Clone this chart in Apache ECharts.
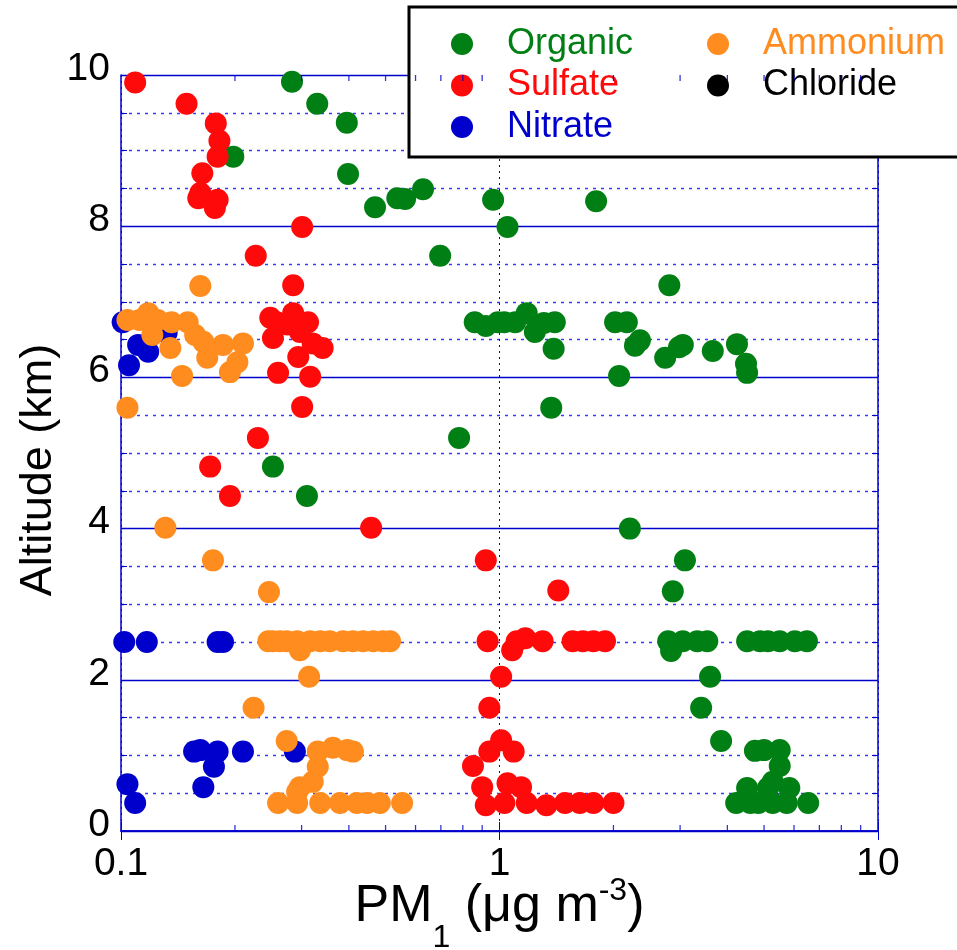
<!DOCTYPE html>
<html>
<head>
<meta charset="utf-8">
<title>PM1 vertical profile</title>
<script src="https://cdn.jsdelivr.net/npm/echarts@6/dist/echarts.min.js"></script>
<style>
  html, body { margin: 0; padding: 0; background: #fff; }
  #main { width: 957px; height: 950px; }
</style>
</head>
<body>
<div id="main"></div>
<script>
// [PM1 (ug m-3), altitude (km)]
var organic = [
    [0.283, 9.91], [0.330, 9.62], [0.395, 9.37], [0.198, 8.92], [0.398, 8.69], [0.469, 8.25],
    [0.537, 8.37], [0.563, 8.36], [0.628, 8.49], [0.962, 8.35], [1.05, 7.99], [1.80, 8.33],
    [0.697, 7.61], [2.81, 7.22],
    [0.86, 6.73], [0.92, 6.68], [0.99, 6.73], [1.03, 6.73], [1.10, 6.73], [1.18, 6.85],
    [1.24, 6.60], [1.31, 6.72], [1.40, 6.73], [1.39, 6.38], [1.37, 5.60], [0.782, 5.20],
    [2.02, 6.73], [2.17, 6.73], [2.35, 6.49], [2.28, 6.42], [2.74, 6.26], [3.05, 6.43],
    [2.98, 6.40], [3.66, 6.35], [4.24, 6.44], [4.48, 6.18], [4.51, 6.06], [2.07, 6.02],
    [0.252, 4.82], [0.310, 4.43], [2.21, 4.00], [3.09, 3.58], [2.87, 3.17],
    [2.79, 2.51], [2.84, 2.38], [3.05, 2.51], [3.33, 2.51], [3.54, 2.51], [4.51, 2.51],
    [4.88, 2.51], [5.12, 2.51], [5.50, 2.51], [6.03, 2.51], [6.49, 2.51],
    [3.60, 2.04], [3.41, 1.63], [3.85, 1.19],
    [4.73, 1.06], [5.00, 1.07], [5.50, 1.07], [5.50, 0.86],
    [4.22, 0.37], [4.60, 0.37], [4.83, 0.37], [5.27, 0.37], [5.74, 0.37], [6.54, 0.37],
    [4.51, 0.57], [5.12, 0.57], [5.83, 0.57], [5.27, 0.65]
];
var sulfate = [
    [0.109, 9.90], [0.149, 9.62], [0.178, 9.36], [0.182, 9.13], [0.180, 8.92], [0.164, 8.70],
    [0.162, 8.44], [0.160, 8.37], [0.180, 8.35], [0.177, 8.24],
    [0.301, 7.99], [0.227, 7.61], [0.285, 7.22],
    [0.248, 6.79], [0.258, 6.73], [0.275, 6.70], [0.285, 6.85], [0.312, 6.73], [0.252, 6.52],
    [0.297, 6.60], [0.321, 6.45], [0.341, 6.39], [0.294, 6.27], [0.260, 6.06], [0.316, 6.01],
    [0.301, 5.61], [0.230, 5.20], [0.172, 4.82], [0.194, 4.43], [0.458, 4.01],
    [0.92, 3.58], [1.43, 3.18],
    [0.93, 2.51], [1.08, 2.39], [1.11, 2.51], [1.17, 2.55], [1.30, 2.51], [1.56, 2.51],
    [1.66, 2.51], [1.77, 2.51], [1.90, 2.51],
    [1.01, 2.04], [0.94, 1.63],
    [1.01, 1.20], [0.94, 1.05], [1.09, 1.05], [0.851, 0.86],
    [0.90, 0.58], [0.92, 0.34], [1.05, 0.63], [1.14, 0.58], [1.03, 0.37], [1.18, 0.37],
    [1.33, 0.34], [1.49, 0.37], [1.63, 0.37], [1.77, 0.37], [2.0, 0.37]
];
var nitrate = [
    [0.101, 6.73], [0.111, 6.43], [0.118, 6.34], [0.105, 6.16], [0.132, 6.59],
    [0.102, 2.50], [0.117, 2.50], [0.180, 2.50], [0.186, 2.50],
    [0.156, 1.05], [0.162, 1.07], [0.180, 1.05], [0.210, 1.05], [0.176, 0.85],
    [0.165, 0.58], [0.104, 0.62], [0.109, 0.37], [0.288, 1.05]
];
var ammonium = [
    [0.162, 7.21],
    [0.104, 6.76], [0.112, 6.76], [0.118, 6.85], [0.125, 6.76], [0.136, 6.73], [0.150, 6.73],
    [0.121, 6.56], [0.135, 6.39], [0.157, 6.56], [0.165, 6.47], [0.169, 6.26], [0.186, 6.43],
    [0.210, 6.45], [0.203, 6.20], [0.194, 6.07], [0.145, 6.02], [0.104, 5.60],
    [0.131, 4.01], [0.175, 3.58], [0.246, 3.16],
    [0.245, 2.51], [0.252, 2.51], [0.263, 2.51], [0.274, 2.51], [0.292, 2.51], [0.316, 2.51],
    [0.336, 2.51], [0.356, 2.51], [0.386, 2.51], [0.410, 2.51], [0.436, 2.51], [0.464, 2.51],
    [0.492, 2.51], [0.514, 2.51], [0.297, 2.39],
    [0.314, 2.04], [0.224, 1.63], [0.274, 1.19],
    [0.331, 1.05], [0.363, 1.10], [0.396, 1.07], [0.410, 1.05], [0.331, 0.85],
    [0.297, 0.58], [0.321, 0.65], [0.292, 0.52],
    [0.260, 0.37], [0.292, 0.37], [0.336, 0.37], [0.379, 0.37], [0.420, 0.37],
    [0.447, 0.37], [0.483, 0.37], [0.553, 0.37]
];
var chloride = [];

var seriesNames = ['Organic', 'Sulfate', 'Nitrate', 'Ammonium', 'Chloride'];
var seriesColors = ['#008014', '#ff0a0a', '#0000cc', '#ff8c1e', '#000000'];
var xMinorTicks = [0.2, 0.3, 0.4, 0.5, 0.6, 0.7, 0.8, 0.9, 2, 3, 4, 5, 6, 7, 8, 9];

var FONT = '"Liberation Sans", Arial, sans-serif';
var AXIS_BLUE = '#0000cc';

var myChart = echarts.init(document.getElementById('main'));

function legendItems(names) {
    return names.map(function (n) {
        var i = seriesNames.indexOf(n);
        return { name: n, textStyle: { color: seriesColors[i] } };
    });
}

var legendCommon = {
    orient: 'vertical',
    icon: 'circle',
    itemWidth: 22,
    itemHeight: 22,
    itemGap: 5.5,
    selectedMode: false,
    textStyle: { fontSize: 36, fontFamily: FONT, padding: [0, 0, 0, 29] }
};

var allData = [organic, sulfate, nitrate, ammonium, chloride];
var series = allData.map(function (d, i) {
    return {
        name: seriesNames[i],
        type: 'scatter',
        data: d,
        symbol: 'circle',
        symbolSize: 22,
        clip: false,
        itemStyle: { color: seriesColors[i], opacity: 1 },
        z: 5
    };
});

// minor log ticks on bottom and top frame
series.push({
    type: 'scatter', silent: true, clip: false, z: 6,
    data: xMinorTicks.map(function (v) { return [v, 0]; }),
    symbol: 'rect', symbolSize: [1.3, 6], symbolOffset: [0, -3],
    itemStyle: { color: AXIS_BLUE }
});
series.push({
    type: 'scatter', silent: true, clip: false, z: 6,
    data: xMinorTicks.map(function (v) { return [v, 10]; }),
    symbol: 'rect', symbolSize: [1.3, 6], symbolOffset: [0, 3],
    itemStyle: { color: AXIS_BLUE }
});

var option = {
    animation: false,
    backgroundColor: '#ffffff',
    grid: { left: 121, right: 79, top: 75, bottom: 119, containLabel: false, outerBoundsMode: 'none' },
    legend: [
        Object.assign({}, legendCommon, {
            data: legendItems(['Organic', 'Sulfate', 'Nitrate']),
            left: 409, top: 7,
            padding: [19, 330, 12, 42],
            borderColor: '#000', borderWidth: 3,
            backgroundColor: '#ffffff'
        }),
        Object.assign({}, legendCommon, {
            data: legendItems(['Ammonium', 'Chloride']),
            left: 707, top: 26,
            padding: 0
        })
    ],
    xAxis: [
        {
            type: 'log', logBase: 10, min: 0.1, max: 10, position: 'bottom',
            axisLine: { lineStyle: { color: AXIS_BLUE, width: 1.5 } },
            axisTick: { inside: true, length: 9, lineStyle: { color: AXIS_BLUE } },
            axisLabel: { color: '#000', fontSize: 39, fontFamily: FONT, margin: 14 },
            splitLine: { show: true, lineStyle: { color: AXIS_BLUE, type: [2, 4] } },
            name: '{a|PM}{sub|1}{a| (μg m}{sup|-3}{a|)}',
            nameLocation: 'middle', nameGap: 29, nameMoveOverlap: false,
            nameTextStyle: {
                rich: {
                    a: { fontSize: 52, fontFamily: FONT, color: '#000', lineHeight: 94 },
                    sub: { fontSize: 32, fontFamily: FONT, color: '#000', lineHeight: 32, verticalAlign: 'bottom' },
                    sup: { fontSize: 32, fontFamily: FONT, color: '#000', lineHeight: 32, verticalAlign: 'top', padding: [15, 0, 0, 0] }
                }
            }
        },
        {
            type: 'log', logBase: 10, min: 0.1, max: 10, position: 'top',
            axisLine: { lineStyle: { color: AXIS_BLUE, width: 1.5 } },
            axisTick: { inside: true, length: 9, lineStyle: { color: AXIS_BLUE } },
            axisLabel: { show: false },
            splitLine: { show: false }
        }
    ],
    yAxis: [
        {
            type: 'value', min: 0, max: 10, interval: 2,
            axisLine: { show: true, lineStyle: { color: AXIS_BLUE, width: 1.5 } },
            axisTick: { show: true, inside: true, length: 9, lineStyle: { color: AXIS_BLUE } },
            minorTick: { show: true, splitNumber: 4, length: 6, lineStyle: { color: AXIS_BLUE } },
            axisLabel: { color: '#000', fontSize: 39, fontFamily: FONT, margin: 11, verticalAlign: 'bottom', lineHeight: 12 },
            splitLine: { show: true, lineStyle: { color: AXIS_BLUE, width: 1.3 } },
            minorSplitLine: { show: true, lineStyle: { color: '#3a3aff', type: [3, 5], width: 1.4 } },
            name: 'Altitude (km)', nameLocation: 'middle', nameGap: 60, nameMoveOverlap: false,
            nameTextStyle: { fontSize: 45, fontFamily: FONT, color: '#000', padding: [0, 34, 0, 0] }
        },
        {
            type: 'value', min: 0, max: 10, interval: 2, position: 'right',
            axisLine: { show: true, lineStyle: { color: AXIS_BLUE, width: 1.5 } },
            axisTick: { show: true, inside: true, length: 9, lineStyle: { color: AXIS_BLUE } },
            minorTick: { show: true, splitNumber: 4, length: 6, lineStyle: { color: AXIS_BLUE } },
            axisLabel: { show: false },
            splitLine: { show: false }
        }
    ],
    series: series
};

myChart.setOption(option);
</script>
</body>
</html>
